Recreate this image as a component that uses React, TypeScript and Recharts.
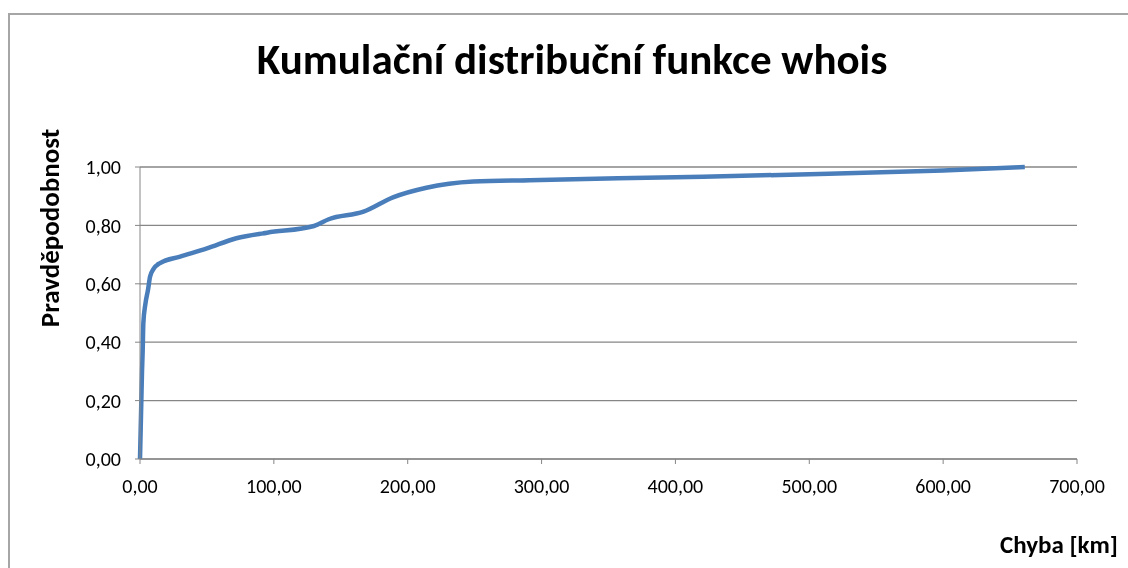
import { LineChart, Line, XAxis, YAxis, CartesianGrid } from 'recharts';

// Error distance [km] and cumulative probability
const errorKm = [0, 0.5, 1, 1.5, 2, 2.5, 4, 6, 7.5, 10, 15, 30, 50, 72, 95, 130, 141, 167, 189, 214, 249, 291, 400, 500, 600, 661];
const probability = [0, 0.1, 0.2, 0.3, 0.37, 0.465, 0.53, 0.58, 0.624, 0.65, 0.671, 0.693, 0.721, 0.756, 0.775, 0.798, 0.821, 0.847, 0.896, 0.929, 0.95, 0.955, 0.965, 0.975, 0.988, 1.0];

const xTicks = [0, 100, 200, 300, 400, 500, 600, 700];
const yTicks = [0, 0.2, 0.4, 0.6, 0.8, 1.0];

const chartTitle = 'Kumulační distribuční funkce whois';
const xLabel = 'Chyba [km]';
const yLabel = 'Pravděpodobnost';

const data = errorKm.map((x, i) => ({ x, p: probability[i] }));

const fmt = (v: number) => v.toFixed(2).replace('.', ',');
const font = 'Carlito, Calibri, "Open Sans", sans-serif';

export default function App() {
  return (
    <div style={{ position: 'relative', width: 1112, height: 552, fontFamily: font }}>
      {/* chart frame; fixed so its right and bottom edges run off the page without scrollbars */}
      <div
        style={{
          position: 'fixed',
          left: 8,
          top: 13,
          width: 1300,
          height: 700,
          border: '2px solid #a6a6a6',
          boxSizing: 'border-box',
        }}
      />
      <div
        style={{
          position: 'absolute',
          top: 26,
          left: 0,
          width: 1112,
          paddingLeft: 16,
          boxSizing: 'border-box',
          textAlign: 'center',
          fontSize: 43,
          fontWeight: 700,
          lineHeight: '52px',
          color: '#000',
          whiteSpace: 'nowrap',
        }}
      >
        {chartTitle}
      </div>
      <LineChart
        width={1112}
        height={552}
        data={data}
        margin={{ top: 159, right: 43, bottom: 0, left: 72 }}
        style={{ position: 'absolute', left: 0, top: 0 }}
      >
        <CartesianGrid horizontal vertical={false} stroke="#868686" strokeWidth={1.3} />
        <XAxis
          dataKey="x"
          type="number"
          domain={[0, 700]}
          ticks={xTicks}
          tickFormatter={fmt}
          stroke="#868686"
          tickSize={5}
          tickMargin={15}
          height={101}
          tick={{ fill: '#000', fontSize: 20, fontFamily: font }}
          interval={0}
        />
        <YAxis
          dataKey="p"
          type="number"
          domain={[0, 1]}
          ticks={yTicks}
          tickFormatter={fmt}
          stroke="#868686"
          tickSize={5}
          tickMargin={14}
          width={60}
          tick={{ fill: '#000', fontSize: 20, fontFamily: font }}
          interval={0}
        />
        <Line
          dataKey="p"
          type="monotone"
          stroke="#4a7ebb"
          strokeWidth={4.5}
          dot={false}
          isAnimationActive={false}
        />
      </LineChart>
      <div
        style={{
          position: 'absolute',
          right: 2,
          top: 522,
          fontSize: 25,
          fontWeight: 700,
          lineHeight: '30px',
          color: '#000',
          whiteSpace: 'nowrap',
        }}
      >
        {xLabel}
      </div>
      <div
        style={{
          position: 'absolute',
          left: 42,
          top: 220,
          width: 0,
          height: 0,
        }}
      >
        <div
          style={{
            position: 'absolute',
            left: 0,
            top: 0,
            transform: 'translate(-50%, -50%) rotate(-90deg)',
            fontSize: 27,
            fontWeight: 700,
            lineHeight: '30px',
            color: '#000',
            whiteSpace: 'nowrap',
          }}
        >
          {yLabel}
        </div>
      </div>
    </div>
  );
}
